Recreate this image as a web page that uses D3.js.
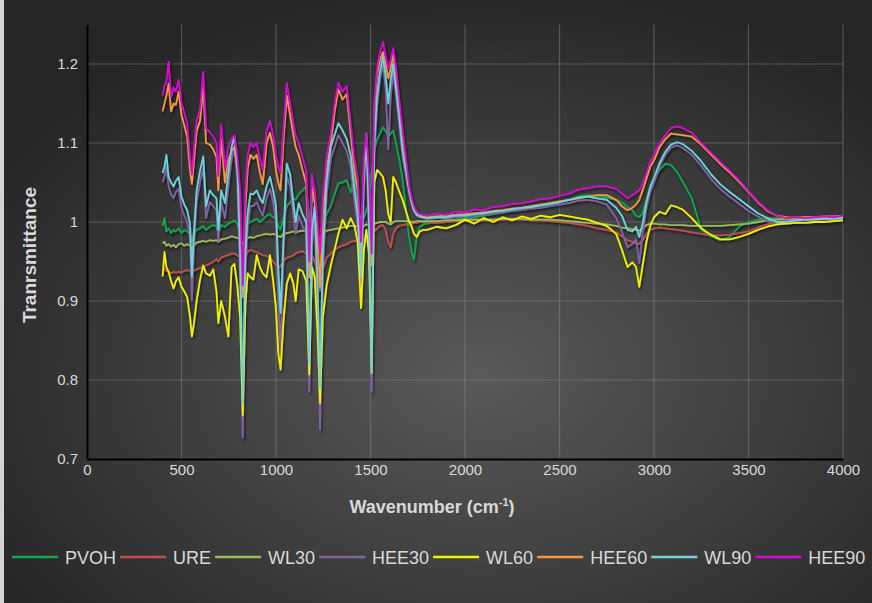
<!DOCTYPE html>
<html><head><meta charset="utf-8">
<script src="https://cdn.jsdelivr.net/npm/d3@7"></script>
<style>html,body{margin:0;padding:0;background:#2a2a2a;}svg{display:block;}</style>
</head><body>
<svg id="chart" width="872" height="603"></svg>
<script>
const wavenumbers = [400,410,420,432,445,458,470,485,500,515,
530,545,555,565,580,598,615,630,650,668,
685,695,710,730,748,765,780,795,810,824,
838,850,865,880,898,915,930,950,968,985,
1000,1012,1024,1040,1057,1075,1092,1104,1120,1140,
1160,1176,1190,1205,1220,1233,1248,1268,1290,1310,
1330,1352,1374,1395,1415,1432,1450,1465,1478,1492,
1506,1520,1535,1550,1566,1580,1594,1607,1620,1635,
1650,1670,1690,1705,1718,1730,1745,1760,1780,
1800,1850,1900,1950,2000,2050,2100,2150,2200,2250,
2300,2350,2400,2450,2500,2550,2600,2650,2700,2750,
2800,2830,2860,2885,2905,2922,2940,2960,2980,
3000,3030,3060,3090,3120,3150,
3200,3250,3300,3350,3400,3450,3500,3550,3600,3650,3700,3750,3800,3850,3900,3950,4000];

const PVOH = [0.995,1.005,0.988,0.992,0.986,0.990,0.988,0.992,0.986,0.990,
0.988,0.985,0.975,0.984,0.990,0.992,0.995,0.990,0.994,0.996,
0.995,0.985,0.996,0.994,0.998,1.000,1.002,0.998,0.985,0.945,
0.985,0.998,1.000,1.002,1.004,1.000,1.003,1.008,1.010,1.006,
1.004,0.995,0.990,1.005,1.020,1.025,1.030,1.028,1.035,1.040,
1.045,1.000,1.030,1.025,0.990,0.960,0.995,1.010,1.020,1.035,
1.049,1.050,1.053,1.037,1.057,1.015,1.003,1.005,1.015,1.024,
1.060,1.091,1.104,1.112,1.120,1.115,1.108,1.112,1.116,1.100,
1.082,1.053,1.010,0.980,0.962,0.952,0.981,0.994,0.997,
0.998,1.000,1.002,1.003,1.005,1.006,1.008,1.010,1.012,1.014,
1.016,1.018,1.020,1.022,1.025,1.028,1.032,1.034,1.033,1.031,
1.028,1.025,1.019,1.015,1.008,1.006,1.011,1.028,1.045,
1.055,1.066,1.074,1.072,1.064,1.052,
1.030,0.990,0.982,0.977,0.981,0.994,1.000,1.003,1.005,1.005,1.005,1.006,1.006,1.006,1.006,1.006,1.007];

const URE = [0.943,0.940,0.938,0.937,0.935,0.937,0.936,0.937,0.936,0.938,
0.939,0.938,0.935,0.938,0.940,0.942,0.943,0.945,0.947,0.950,
0.953,0.950,0.955,0.957,0.958,0.960,0.960,0.958,0.955,0.950,
0.957,0.962,0.965,0.963,0.962,0.960,0.958,0.957,0.955,0.950,
0.945,0.943,0.944,0.950,0.955,0.956,0.958,0.960,0.962,0.963,
0.960,0.955,0.958,0.950,0.935,0.913,0.940,0.955,0.960,0.965,
0.968,0.970,0.972,0.975,0.976,0.975,0.972,0.978,0.980,0.982,
0.984,0.988,0.992,0.995,0.996,0.990,0.975,0.968,0.985,0.992,
0.995,0.996,0.997,0.998,0.998,0.999,0.999,1.000,1.000,
1.000,0.999,1.000,1.001,1.001,1.002,1.002,1.002,1.003,1.003,
1.003,1.002,1.002,1.001,1.000,0.999,0.997,0.995,0.992,0.990,
0.987,0.982,0.977,0.975,0.973,0.972,0.977,0.985,0.990,
0.992,0.993,0.992,0.991,0.990,0.989,
0.987,0.985,0.983,0.983,0.984,0.986,0.988,0.993,0.997,1.000,1.002,1.003,1.003,1.004,1.004,1.005,1.005];

const WL30 = [0.973,0.975,0.970,0.972,0.969,0.971,0.968,0.972,0.973,0.970,
0.972,0.970,0.966,0.970,0.974,0.975,0.976,0.975,0.977,0.976,
0.977,0.975,0.978,0.979,0.980,0.982,0.981,0.980,0.978,0.972,
0.978,0.980,0.981,0.980,0.982,0.983,0.984,0.985,0.984,0.985,
0.984,0.982,0.981,0.985,0.986,0.987,0.988,0.987,0.988,0.989,
0.988,0.984,0.988,0.987,0.983,0.978,0.985,0.989,0.990,0.991,
0.992,0.993,0.994,0.995,0.995,0.994,0.990,0.995,0.997,0.996,
0.992,0.998,0.999,1.000,1.000,1.000,0.998,0.997,1.000,1.001,
1.001,1.001,1.001,1.001,1.000,1.000,1.001,1.001,1.001,
1.001,1.001,1.002,1.002,1.003,1.003,1.003,1.003,1.004,1.004,
1.004,1.003,1.003,1.003,1.002,1.001,1.000,0.999,0.998,0.997,
0.995,0.993,0.992,0.991,0.990,0.989,0.992,0.996,0.998,
0.998,0.997,0.997,0.996,0.996,0.996,
0.995,0.995,0.995,0.995,0.996,0.997,0.998,1.000,1.002,1.003,1.004,1.004,1.004,1.005,1.005,1.005,1.005];

const HEE30 = [1.050,1.058,1.070,1.045,1.035,1.030,1.038,1.042,1.018,1.008,
1.000,0.980,0.901,0.965,1.025,1.050,1.068,1.005,1.025,1.020,
1.015,0.975,1.025,1.005,1.045,1.080,1.092,1.058,0.930,0.727,
0.935,0.995,1.020,1.020,1.025,1.015,1.008,1.030,1.042,1.025,
1.000,0.900,0.838,0.960,1.058,1.045,1.008,0.985,1.008,0.995,
0.985,0.785,0.970,1.005,0.890,0.737,0.940,1.035,1.080,1.095,
1.110,1.100,1.090,1.070,1.025,0.995,0.910,1.045,1.098,0.985,
0.785,1.085,1.148,1.180,1.200,1.170,1.092,1.160,1.190,1.160,
1.128,1.082,1.055,1.035,1.022,1.013,1.008,1.006,1.005,
1.004,1.005,1.005,1.006,1.007,1.008,1.009,1.011,1.012,1.014,
1.015,1.017,1.018,1.020,1.022,1.024,1.027,1.028,1.026,1.022,
1.005,0.988,0.968,0.972,0.978,0.948,0.985,1.018,1.038,
1.050,1.070,1.085,1.094,1.097,1.094,
1.085,1.071,1.055,1.042,1.032,1.023,1.014,1.007,1.001,0.999,1.000,1.001,1.002,1.003,1.003,1.004,1.004];

const WL60 = [0.931,0.962,0.943,0.937,0.925,0.916,0.925,0.930,0.918,0.912,
0.905,0.880,0.855,0.870,0.900,0.927,0.945,0.935,0.932,0.940,
0.912,0.872,0.900,0.880,0.855,0.943,0.947,0.920,0.880,0.755,
0.895,0.935,0.930,0.927,0.958,0.943,0.935,0.930,0.958,0.925,
0.890,0.834,0.813,0.876,0.922,0.935,0.922,0.900,0.940,0.938,
0.925,0.807,0.943,0.930,0.860,0.771,0.880,0.920,0.945,0.965,
0.985,1.003,0.992,1.005,0.995,0.975,0.891,0.965,0.990,0.960,
0.809,1.050,1.066,1.062,1.057,1.040,1.010,1.000,1.057,1.050,
1.040,1.028,1.012,1.000,0.994,0.985,0.981,0.988,0.990,
0.990,0.994,0.992,0.996,1.003,0.998,1.005,1.000,1.006,1.002,
1.007,1.004,1.008,1.006,1.009,1.007,1.005,1.003,0.999,0.995,
0.985,0.965,0.943,0.949,0.943,0.918,0.945,0.975,0.995,
1.006,1.013,1.010,1.021,1.019,1.016,
1.005,0.992,0.984,0.978,0.978,0.981,0.985,0.990,0.994,0.997,0.998,0.999,0.999,1.000,1.000,1.001,1.002];

const HEE60 = [1.140,1.150,1.160,1.175,1.140,1.150,1.148,1.165,1.135,1.122,
1.108,1.065,1.048,1.075,1.115,1.128,1.172,1.100,1.098,1.092,
1.082,1.040,1.105,1.050,1.078,1.090,1.095,1.068,1.020,0.905,
1.020,1.068,1.085,1.080,1.085,1.062,1.048,1.100,1.113,1.095,
1.065,1.050,1.040,1.105,1.160,1.135,1.110,1.095,1.085,1.066,
1.048,0.930,1.045,1.025,0.975,0.918,1.010,1.068,1.100,1.140,
1.168,1.155,1.162,1.112,1.065,1.040,0.960,1.065,1.100,1.045,
0.945,1.140,1.188,1.205,1.215,1.200,1.182,1.195,1.212,1.188,
1.152,1.108,1.068,1.040,1.025,1.016,1.010,1.008,1.007,
1.006,1.007,1.008,1.009,1.010,1.011,1.012,1.014,1.015,1.017,
1.018,1.020,1.022,1.024,1.026,1.028,1.030,1.032,1.034,1.034,
1.028,1.020,1.015,1.018,1.022,1.028,1.040,1.055,1.070,
1.078,1.095,1.105,1.112,1.111,1.110,
1.108,1.098,1.086,1.074,1.063,1.051,1.038,1.025,1.014,1.008,1.006,1.005,1.006,1.006,1.007,1.007,1.008];

const WL90 = [1.062,1.070,1.085,1.057,1.050,1.045,1.052,1.057,1.032,1.022,
1.015,0.998,0.931,0.985,1.040,1.065,1.083,1.020,1.040,1.034,
1.030,0.990,1.040,1.024,1.062,1.095,1.108,1.074,0.960,0.770,
0.960,1.010,1.036,1.035,1.040,1.030,1.024,1.045,1.057,1.040,
1.020,0.940,0.885,0.980,1.074,1.060,1.024,1.000,1.024,1.010,
1.000,0.820,0.990,1.020,0.920,0.790,0.960,1.053,1.095,1.110,
1.125,1.116,1.105,1.085,1.040,1.010,0.930,1.060,1.112,1.000,
0.810,1.100,1.160,1.190,1.209,1.185,1.150,1.180,1.200,1.170,
1.137,1.090,1.062,1.040,1.025,1.015,1.009,1.007,1.006,
1.005,1.006,1.006,1.008,1.008,1.010,1.011,1.013,1.014,1.016,
1.018,1.019,1.021,1.023,1.025,1.028,1.031,1.032,1.030,1.028,
1.018,1.008,0.990,0.988,0.994,0.981,0.998,1.025,1.044,
1.056,1.075,1.089,1.098,1.101,1.099,
1.090,1.077,1.061,1.048,1.038,1.029,1.020,1.011,1.005,1.000,1.000,1.002,1.003,1.003,1.004,1.004,1.005];

const HEE90 = [1.160,1.172,1.178,1.203,1.158,1.170,1.165,1.180,1.150,1.138,
1.125,1.082,1.060,1.090,1.128,1.142,1.190,1.118,1.114,1.108,
1.100,1.058,1.124,1.068,1.095,1.105,1.110,1.084,1.040,0.920,
1.040,1.085,1.100,1.095,1.100,1.080,1.066,1.115,1.128,1.110,
1.083,1.070,1.062,1.120,1.176,1.150,1.125,1.110,1.100,1.082,
1.065,0.950,1.060,1.040,1.000,0.960,1.030,1.083,1.112,1.150,
1.176,1.165,1.172,1.125,1.080,1.055,0.975,1.080,1.112,1.060,
0.960,1.150,1.195,1.215,1.228,1.210,1.195,1.205,1.220,1.195,
1.160,1.115,1.075,1.045,1.030,1.020,1.013,1.010,1.009,
1.008,1.011,1.009,1.013,1.012,1.016,1.015,1.019,1.020,1.023,
1.024,1.026,1.029,1.030,1.033,1.036,1.041,1.043,1.045,1.045,
1.042,1.036,1.030,1.034,1.037,1.040,1.049,1.062,1.076,
1.085,1.100,1.110,1.119,1.121,1.119,
1.113,1.100,1.088,1.076,1.065,1.053,1.039,1.026,1.015,1.008,1.005,1.006,1.005,1.006,1.007,1.006,1.008];

const seriesNames = ["PVOH","URE","WL30","HEE30","WL60","HEE60","WL90","HEE90"];
const seriesValues = [PVOH, URE, WL30, HEE30, WL60, HEE60, WL90, HEE90];
const seriesColors = ["#10a84e","#c0504d","#9bbb59","#8064a2","#f2f200","#f79646","#6fd3d9","#d20fcf"];
const xTicks = [0,500,1000,1500,2000,2500,3000,3500,4000];
const yTicks = [0.7,0.8,0.9,1.0,1.1,1.2];
const yTickLabels = ["0.7","0.8","0.9","1","1.1","1.2"];

seriesValues.forEach((s,i)=>{ if(s.length!==wavenumbers.length) console.error(seriesNames[i]+" length "+s.length+" vs "+wavenumbers.length); });

const W = 872, H = 603;
const svg = d3.select("#chart");
const defs = svg.append("defs");
const rg = defs.append("radialGradient").attr("id","bg")
  .attr("cx","55%").attr("cy","62%").attr("r","65%");
rg.append("stop").attr("offset","0%").attr("stop-color","#5a5a5a");
rg.append("stop").attr("offset","100%").attr("stop-color","#262626");
const f = defs.append("filter").attr("id","shadow").attr("x","-5%").attr("y","-5%").attr("width","110%").attr("height","110%");
f.append("feDropShadow").attr("dx",1.2).attr("dy",1.8).attr("stdDeviation",1.2)
  .attr("flood-color","#000").attr("flood-opacity",0.65);

svg.append("rect").attr("width",W).attr("height",H).attr("fill","url(#bg)");
svg.append("rect").attr("x",0).attr("y",0).attr("width",4).attr("height",H).attr("fill","#d4d4d4");

const x = d3.scaleLinear().domain([0,4000]).range([87,843]);
const y = d3.scaleLinear().domain([0.7,1.25]).range([459,24.5]);

const grid = svg.append("g");
grid.selectAll("line.v").data(xTicks.slice(1)).join("line")
  .attr("x1",d=>x(d)).attr("x2",d=>x(d)).attr("y1",y(1.25)).attr("y2",y(0.7))
  .attr("stroke","#8a8a8a").attr("stroke-opacity",0.45).attr("stroke-width",1.2);
grid.selectAll("line.h").data(yTicks.slice(1)).join("line")
  .attr("x1",x(0)).attr("x2",x(4000)).attr("y1",d=>y(d)).attr("y2",d=>y(d))
  .attr("stroke","#8a8a8a").attr("stroke-opacity",0.45).attr("stroke-width",1.2);

const font = "Liberation Sans, Arial, sans-serif";
const xAxis = d3.axisBottom(x).tickValues(xTicks).tickSize(0).tickPadding(5).tickFormat(d3.format("d"));
const gx = svg.append("g").attr("transform",`translate(0,${y(0.7)})`).call(xAxis);
gx.select(".domain").attr("stroke","#000").attr("stroke-width",2);
gx.selectAll("text").attr("fill","#d9d9d9").style("font-family",font).style("font-size","15px");

const yAxis = d3.axisLeft(y).tickValues(yTicks).tickSize(0).tickPadding(9).tickFormat((d,i)=>yTickLabels[i]);
const gy = svg.append("g").attr("transform",`translate(${x(0)},0)`).call(yAxis);
gy.select(".domain").attr("stroke","#000").attr("stroke-width",2);
gy.selectAll("text").attr("fill","#d9d9d9").style("font-family",font).style("font-size","15px");

const line = d3.line().x((d,i)=>x(wavenumbers[i])).y(d=>y(d));
const lines = svg.append("g").attr("filter","url(#shadow)");
seriesValues.forEach((vals,i)=>{
  lines.append("path").datum(vals).attr("d",line).attr("fill","none")
    .attr("stroke",seriesColors[i]).attr("stroke-width",1.8).attr("stroke-linejoin","round");
});

// axis titles
const xt = svg.append("text").attr("x",432).attr("y",513).attr("text-anchor","middle")
  .attr("fill","#d9d9d9").style("font-family",font).style("font-size","18px").style("font-weight","bold");
xt.append("tspan").text("Wavenumber (cm");
xt.append("tspan").text("-1").attr("dy",-7).style("font-size","11px");
xt.append("tspan").text(")").attr("dy",7);

svg.append("text").attr("transform","translate(36,255) rotate(-90)").attr("text-anchor","middle")
  .attr("fill","#d9d9d9").style("font-family",font).style("font-size","19px").style("font-weight","bold")
  .text("Tranrsmittance");

// legend
const lg = svg.append("g");
let cx = 12;
seriesNames.forEach((n,i)=>{
  lg.append("line").attr("x1",cx).attr("x2",cx+46).attr("y1",557).attr("y2",557)
    .attr("stroke",seriesColors[i]).attr("stroke-width",2.5);
  const t = lg.append("text").attr("x",cx+53).attr("y",563.5).attr("fill","#d9d9d9")
    .style("font-family",font).style("font-size","18px").text(n);
  cx += 53 + t.node().getComputedTextLength() + 4;
});
</script>
</body></html>
